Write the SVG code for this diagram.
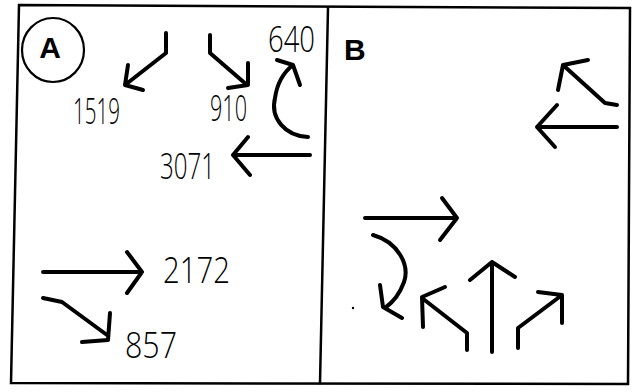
<svg xmlns="http://www.w3.org/2000/svg" width="634" height="392" viewBox="0 0 634 392">
<style>
.f{fill:none;stroke:#000;stroke-width:2.5;stroke-linecap:square}
.a{fill:none;stroke:#000;stroke-width:4;stroke-linecap:round;stroke-linejoin:round}
.t{font-family:"Open Sans","Roboto","Lato","DejaVu Sans",sans-serif;font-weight:300;font-size:36px;fill:#000}
.b{font-family:"Liberation Sans",Arial,sans-serif;font-weight:bold;font-size:30px;fill:#000}
</style>
<rect width="634" height="392" fill="#fff"/>
<g id="frame">
<path class="f" d="M19 5 L630 8 L628 384 L11 383 Z"/>
<path class="f" d="M328 8 L320 383"/>
</g>
<g id="panelA">
<ellipse cx="53" cy="50" rx="31" ry="32" fill="none" stroke="#000" stroke-width="2.2"/>
<text class="b" x="50" y="58" text-anchor="middle">A</text>
<path class="a" d="M166 33 L166 53 L125 85 M128 65 L125 85 L143 90"/>
<text class="t" x="73" y="124" textLength="47" lengthAdjust="spacingAndGlyphs">1519</text>
<path class="a" d="M210 35 L210 53 L247 85 M248 63 L248 85 L228 88"/>
<text class="t" x="210" y="121" textLength="37" lengthAdjust="spacingAndGlyphs">910</text>
<text class="t" x="268" y="52" font-size="31" textLength="47" lengthAdjust="spacingAndGlyphs">640</text>
<path class="a" d="M308 137 C285 136 270 118 275 98 C277 84 284 72 293 65 M277 60 L293 65 L300 85"/>
<path class="a" stroke-width="5" d="M310 155 L233 155 M248 137 L233 155 L250 175"/>
<text class="t" x="160" y="179" font-size="40" textLength="55" lengthAdjust="spacingAndGlyphs">3071</text>
<path class="a" d="M43 272 L142 272 M127 252 L142 272 L127 293"/>
<text class="t" x="163" y="283" font-size="31" textLength="67" lengthAdjust="spacingAndGlyphs">2172</text>
<path class="a" d="M43 298 L62 302 L107 335 M110 313 L108 340 L82 342"/>
<text class="t" x="125" y="358" textLength="52" lengthAdjust="spacingAndGlyphs">857</text>
</g>
<g id="panelB">
<text class="b" x="344" y="60">B</text>
<path class="a" d="M617 105 L605 103 L563 65 M588 60 L563 65 L558 90"/>
<path class="a" stroke-width="3.5" d="M617 127 L537 127 M557 105 L537 127 L555 147"/>
<path class="a" d="M365 218 L457 218 M442 198 L457 218 L440 240"/>
<path class="a" d="M373 235 C398 242 410 265 404 282 C399 296 392 303 385 308 M380 285 L383 307 L402 318"/>
<path class="a" d="M467 350 L467 333 L422 298 M445 287 L422 297 L423 327"/>
<path class="a" d="M492 352 L492 262 M470 280 L492 262 L515 277"/>
<path class="a" d="M518 348 L518 328 L562 295 M538 292 L562 295 L562 323"/>
<circle cx="353" cy="308" r="1.2" fill="#000"/>
</g>
</svg>
